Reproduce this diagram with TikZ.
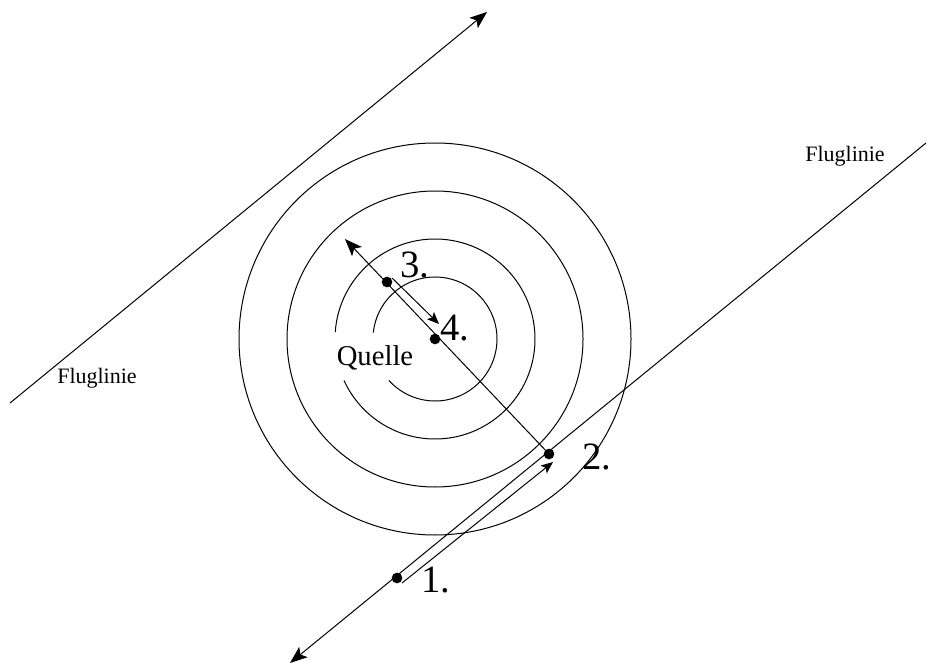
\documentclass[tikz,border=0pt]{standalone}
\usepackage{fontspec}
\setmainfont{Liberation Serif}
\usetikzlibrary{arrows.meta}
\tikzset{
  ln/.style={line width=0.75pt, black},
  bigarrow/.style={ln, -{Stealth[length=13pt,width=10pt,inset=3pt]}},
  smallarrow/.style={ln, -{Stealth[length=9pt,width=7.5pt,inset=2pt]}},
  dotnode/.style={circle, fill=black, inner sep=0pt, minimum size=8pt},
  numlbl/.style={font=\fontsize{29}{29}\selectfont, inner sep=0pt},
  flug/.style={font=\fontsize{16.5}{17}\selectfont, inner sep=0pt},
}
\begin{document}
\begin{tikzpicture}[x=0.75pt,y=-0.75pt]
\useasboundingbox (0,0) rectangle (927,670);
% circles
\coordinate (c) at (435,339);
\draw[ln] (c) ++(186:62) arc[start angle=186, end angle=498, radius=62];
\draw[ln] (c) ++(184:100) arc[start angle=184, end angle=515.5, radius=100];
\draw[ln] (c) circle[radius=148];
\draw[ln] (c) circle[radius=196];
% fluglinien
\coordinate (L1) at (10,403);
\coordinate (L2) at (487,12);
\draw[bigarrow] (L1) -- (L2);
\coordinate (R1) at (926,143);
\coordinate (R2) at (290,663);
\draw[bigarrow] (R1) -- (R2);
% dots
\node[dotnode] (d1) at (397,578) {};
\node[dotnode] (d2) at (549,454) {};
\node[dotnode] (d3) at (387,282) {};
\node[dotnode] (d4) at (435,339) {};
% radial arrow
\coordinate (tip) at (345,239);
\draw[bigarrow] (d2.center) -- (tip);
% parallel arrows
\coordinate (a1s) at (402,583);
\coordinate (a1e) at (553,462);
\draw[smallarrow] (a1s) -- (a1e);
\coordinate (a3s) at (392,278);
\coordinate (a3e) at (439,324);
\draw[smallarrow] (a3s) -- (a3e);
% labels
\node[numlbl] (n1) at (436,580) {1.};
\node[numlbl] (n2) at (597,457) {2.};
\node[numlbl] (n3) at (415,265) {3.};
\node[numlbl] (n4) at (455,328) {4.};
\node[font=\fontsize{21.5}{22}\selectfont, inner sep=0pt] (q) at (375,358) {Quelle};
\node[flug] (f1) at (97,378) {Fluglinie};
\node[flug] (f2) at (845,156) {Fluglinie};
\end{tikzpicture}
\end{document}
